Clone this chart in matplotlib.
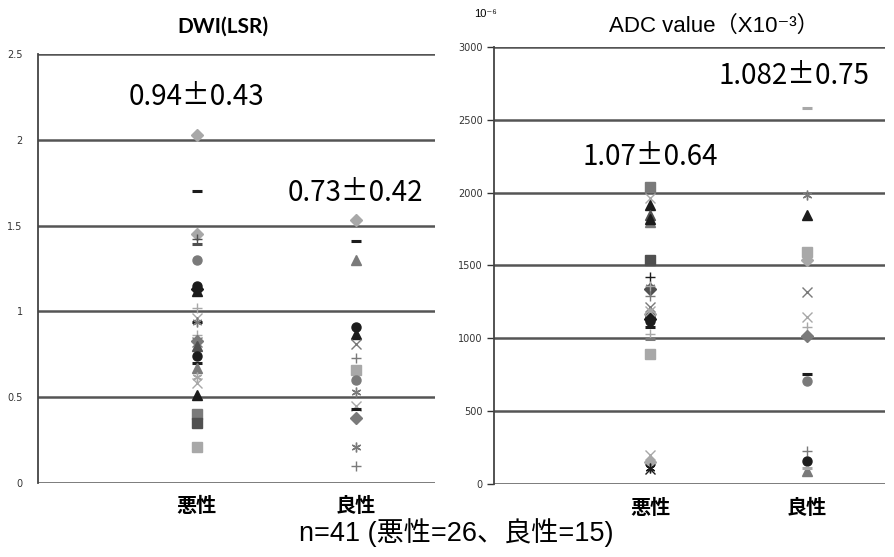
import numpy as np
from matplotlib import pyplot as plt

# categorias
cats = ["悪性", "良性"]

# DWI (LSR)
dwi_mal = [2.03, 1.70, 1.45, 1.42, 1.39, 1.30, 1.15, 1.13, 1.12, 1.02, 0.96, 0.94, 0.94,
           0.86, 0.83, 0.82, 0.80, 0.74, 0.70, 0.67, 0.62, 0.58, 0.51, 0.40, 0.35, 0.21]
dwi_ben = [1.53, 1.41, 1.30, 0.91, 0.87, 0.81, 0.73, 0.66, 0.60, 0.53, 0.45, 0.43,
           0.38, 0.21, 0.10]

# ADC value
adc_mal = [2035, 1960, 1913, 1844, 1800, 1534, 1420, 1350, 1340, 1293, 1213, 1170, 1144,
           1130, 1075, 1032, 998, 892, 200, 150, 110, 105, 1120, 1820, 1360, 1190]
adc_ben = [2580, 1982, 1844, 1592, 1534, 1316, 1144, 1075, 1018, 755, 709, 227, 158,
           89, 110]

# texto de media +- dp
dwi_txt = ["0.94±0.43", "0.73±0.42"]
adc_txt = ["1.07±0.64", "1.082±0.75"]

# estilos (marcador, cor) de cada ponto, na mesma ordem dos valores
K, D, G, L = "#1c1c1c", "#505050", "#7a7a7a", "#a8a8a8"
AST = (6, 2, 0)
sty_dwi_mal = [("D", L), ("_", K), ("D", L), ("+", D), ("_", D), ("o", G), ("o", K), ("D", K),
               ("^", K), ("+", L), ("x", L), ("_", K), (AST, G), ("+", L), ("D", G), ("x", G),
               ("^", D), ("o", K), ("_", K), ("^", G), (AST, L), ("x", L), ("^", K), ("s", G),
               ("s", D), ("s", L)]
sty_dwi_ben = [("D", L), ("_", K), ("^", G), ("o", K), ("^", K), ("x", G), ("+", G), ("s", L),
               ("o", G), (AST, G), ("x", L), ("_", K), ("D", G), (AST, G), ("+", G)]
sty_adc_mal = [("s", G), ("x", L), ("^", K), ("^", D), ("^", G), ("s", D), ("+", K), (AST, G),
               ("D", D), ("+", G), ("x", G), ("D", L), ("o", K), ("D", K), ("_", K), ("+", L),
               ("_", G), ("s", L), ("x", L), ("D", L), (AST, K), ("x", K), ("o", K), ("^", K),
               ("+", L), ("x", L)]
sty_adc_ben = [("_", L), (AST, G), ("^", K), ("s", L), ("D", L), ("x", G), ("x", L), ("+", L),
               ("D", G), ("_", K), ("o", G), ("+", G), ("o", K), ("^", G), ("_", L)]

LAT = ["Liberation Sans", "Noto Sans CJK JP", "DejaVu Sans"]
JP = ["Noto Sans CJK JP", "DejaVu Sans"]

fig = plt.figure(figsize=(8.94, 5.57), dpi=100)
ax1 = fig.add_axes([0.0425, 0.133, 0.444, 0.770])
ax2 = fig.add_axes([0.5526, 0.131, 0.437, 0.785])


def draw(ax, vals_list, sty_list, ymax, step):
    for i, (vals, sty) in enumerate(zip(vals_list, sty_list)):
        for v, (m, c) in zip(vals, sty):
            lw = 2.2 if m == "_" else 1.0
            ms = 7 if m in ("_", "+", "x", AST) else 6.5
            ax.plot(i + 1, v, marker=m, color=c, markersize=ms, markeredgewidth=lw,
                    linestyle="none", zorder=3)
    ax.set_xlim(0, 2.5)
    ax.set_ylim(0, ymax)
    yt = np.arange(0, ymax + step / 2, step)
    ax.set_yticks(yt)
    ax.grid(axis="y", color="#555555", linewidth=1.8, zorder=1)
    for s in ["top", "right", "bottom"]:
        ax.spines[s].set_visible(False)
    ax.spines["left"].set_color("#444444")
    ax.spines["left"].set_linewidth(1.3)
    ax.set_xticks([1, 2])
    ax.set_xticklabels(cats, family="Noto Sans CJK JP", fontsize=14.5, weight="bold")
    ax.tick_params(axis="x", length=0, pad=9)
    ax.tick_params(axis="y", labelsize=7, colors="#333333")


draw(ax1, [dwi_mal, dwi_ben], [sty_dwi_mal, sty_dwi_ben], 2.5, 0.5)
ax1.set_yticklabels(["0", "0.5", "1", "1.5", "2", "2.5"])
ax1.tick_params(axis="y", length=0, pad=11)
draw(ax2, [adc_mal, adc_ben], [sty_adc_mal, sty_adc_ben], 3000, 500)
ax2.tick_params(axis="y", length=5, width=1, pad=3)

# textos de media
ax1.text(1, 2.25, dwi_txt[0], ha="center", va="center", fontsize=20, family=JP)
ax1.text(2, 1.69, dwi_txt[1], ha="center", va="center", fontsize=20, family=JP)
ax2.text(1, 2245, adc_txt[0], ha="center", va="center", fontsize=20, family=JP)
ax2.text(1.92, 2800, adc_txt[1], ha="center", va="center", fontsize=20, family=JP)

# titulos
fig.text(0.249, 0.952, "DWI(LSR)", ha="center", va="center", fontsize=15, weight="bold",
         family="Lato")
fig.text(0.799, 0.953, "ADC value（X10⁻³）", ha="center", va="center", fontsize=16,
         family=LAT)
fig.text(0.5425, 0.975, "10⁻⁶", ha="center", va="center", fontsize=8, family=LAT)

fig.text(0.51, 0.043, "n=41 (悪性=26、良性=15)", ha="center", va="center", fontsize=19.5,
         family=LAT)

plt.savefig("out.png", dpi=100)
